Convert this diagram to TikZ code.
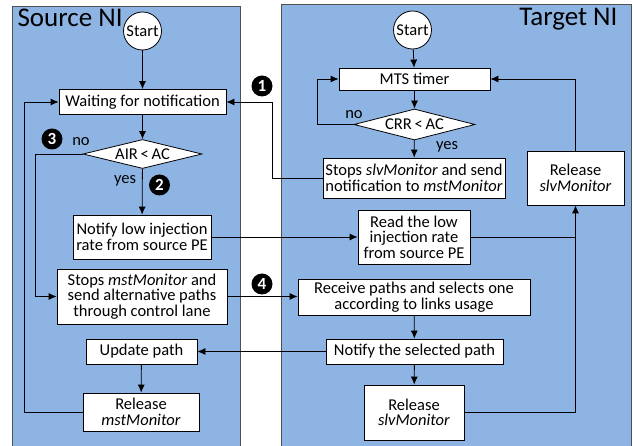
\documentclass[tikz,border=0pt]{standalone}
\usepackage{fontspec}
\setmainfont{Carlito}
\usepackage{tikz}
\usetikzlibrary{shapes.geometric,arrows.meta,positioning,calc}
\definecolor{panelblue}{HTML}{8EB4E3}
\definecolor{panelline}{HTML}{505050}
\newcommand{\fs}{\fontsize{16.5}{15.5}\selectfont}
\tikzset{>={Latex[length=8pt,width=7pt]}}
\tikzset{
  box/.style={draw, fill=white, align=center, inner sep=0pt, font=\fs, line width=0.8pt},
  startnode/.style={draw, circle, fill=white, minimum size=38pt, inner sep=0pt, font=\fs, line width=0.8pt},
  decision/.style={draw, diamond, aspect=4, fill=white, inner sep=0pt, font=\fs, line width=0.8pt},
  badge/.style={circle, fill=black, text=white, inner sep=0pt, minimum size=21pt, font=\fontsize{17}{17}\selectfont\bfseries},
  flow/.style={->, line width=0.8pt},
  plain/.style={line width=0.8pt}
}
\begin{document}
\begin{tikzpicture}[x=1pt,y=-1pt]
\useasboundingbox[fill=white] (0,0) rectangle (633,446);
% panels
\fill[panelblue] (12,6) rectangle (240,446);
\draw[panelline, line width=0.9pt] (12,446) -- (12,6) -- (240,6) -- (240,446);
\fill[panelblue] (281,4) rectangle (631,446);
\draw[panelline, line width=0.9pt] (281,446) -- (281,4) -- (631,4) -- (631,446);
\node[anchor=west, font=\fontsize{27}{27}\selectfont] (srctitle) at (14,18) {Source NI};
\node[anchor=east, font=\fontsize{27}{27}\selectfont] (tgttitle) at (621,19) {Target NI};

% source NI
\node[startnode] (s0) at (142.5,31) {Start};
\node[box, minimum width=167pt, minimum height=25pt] (wait) at (142.5,102) {Waiting for notification};
\node[decision, minimum width=119pt, minimum height=29pt] (air) at (142.5,154) {AIR\,<\,AC};
\node[box, minimum width=138pt, minimum height=44pt] (notif) at (142,237) {Notify low injection\\rate from source PE};
\node[box, minimum width=170pt, minimum height=55pt] (stops) at (142,296.5) {Stops \textit{mstMonitor} and\\send alternative paths\\through control lane};
\node[box, minimum width=111pt, minimum height=25pt] (upd) at (141.5,351.5) {Update path};
\node[box, minimum width=116pt, minimum height=38pt] (relm) at (141,412) {Release\\\textit{mstMonitor}};

% target NI
\node[startnode] (t0) at (412.5,30) {Start};
\node[box, minimum width=151pt, minimum height=22pt] (mts) at (414.5,79) {MTS timer};
\node[decision, minimum width=121pt, minimum height=31pt] (crr) at (414.5,124.5) {CRR\,<\,AC};
\node[box, minimum width=182pt, minimum height=40pt] (stopsl) at (414,178) {Stops \textit{slvMonitor} and send\\notification to \textit{mstMonitor}};
\node[box, minimum width=97pt, minimum height=54pt] (relu) at (575.5,178) {Release\\\textit{slvMonitor}};
\node[box, minimum width=112pt, minimum height=54pt] (read) at (414,237) {Read the low\\injection rate\\from source PE};
\node[box, minimum width=232pt, minimum height=36pt] (recv) at (414,297) {Receive paths and selects one\\according to links usage};
\node[box, minimum width=177pt, minimum height=25pt] (nsel) at (414.5,351.5) {Notify the selected path};
\node[box, minimum width=100pt, minimum height=55pt] (rell) at (414,412.5) {Release\\\textit{slvMonitor}};

% labels and badges
\node[font=\fs] (nosrc) at (81,142) {no};
\node[font=\fs] (yessrc) at (125,181) {yes};
\node[font=\fs] (notgt) at (354,115) {no};
\node[font=\fs] (yestgt) at (447,147) {yes};
\node[badge] (b1) at (262,86) {1};
\node[badge] (b2) at (159.5,185) {2};
\node[badge] (b3) at (52,139) {3};
\node[badge] (b4) at (262,284) {4};

% source connectors
\draw[flow] (s0) -- (wait);
\draw[flow] (wait) -- (air);
\draw[flow] (air) -- (notif);
\draw[flow] (air.west) -- ++(-47,0) |- (stops.west);
\draw[flow] (upd) -- (relm);
\draw[flow] (relm.west) -- ++(-58,0) |- (wait.west);

% target connectors
\draw[flow] (t0) -- (mts);
\draw[flow] (mts) -- (crr);
\draw[flow] (crr) -- (stopsl);
\draw[flow] (crr.west) -- ++(-36,0) |- (mts.west);
\draw[flow] (relu.north) |- (mts.east);
\draw[flow] (recv) -- (nsel);
\draw[flow] (nsel) -- (rell);
\draw[flow] (rell.east) -| (relu.south);
\draw[plain] (read.east) -- (read.east -| relu.south);

% between panels
\draw[flow] (stopsl.west) -- ++(-50,0) |- (wait.east);
\draw[flow] (notif.east) -- (notif.east -| read.west);
\draw[flow] (stops.east) -- (stops.east -| recv.west);
\draw[flow] (nsel.west) -- (nsel.west -| upd.east);
\end{tikzpicture}
\end{document}
